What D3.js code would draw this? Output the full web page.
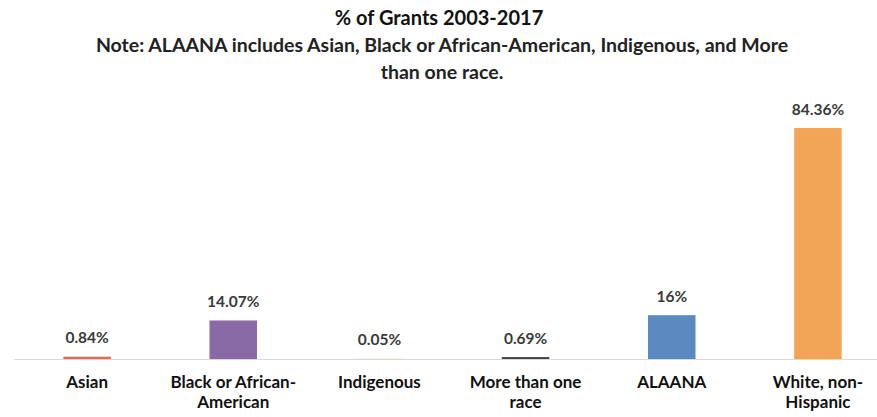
<!DOCTYPE html>
<html><head><meta charset="utf-8">
<script src="https://cdn.jsdelivr.net/npm/d3@7"></script>
<style>body{margin:0;background:#fff}svg{display:block}text{font-family:Lato,"Open Sans",sans-serif;fill:#262626}</style>
</head><body><svg id="c" width="877" height="417"></svg>
<script>
const categories = ["Asian","Black or African-American","Indigenous","More than one race","ALAANA","White, non-Hispanic"];
const tickLabels = [["Asian"],["Black or African-","American"],["Indigenous"],["More than one","race"],["ALAANA"],["White, non-","Hispanic"]];
const values = [0.84,14.07,0.05,0.69,16,84.36];
const valueLabels = ["0.84%","14.07%","0.05%","0.69%","16%","84.36%"];
const colors = ["#e06c55","#8a6aa6","#9bbb59","#404040","#5a8ac0","#f2a555"];
const title = "% of Grants 2003-2017";
const noteLines = ["Note: ALAANA includes Asian, Black or African-American, Indigenous, and More","than one race."];

const svg = d3.select("#c");
const x = d3.scaleBand().domain(categories).range([14,891]).paddingInner(0.675).paddingOuter(0.3375);
const y = d3.scaleLinear().domain([0,90]).range([359,112.6]);

svg.append("text").attr("x",439).attr("y",25).attr("text-anchor","middle")
  .style("font-size","20px").style("font-weight","700").style("fill","#111").text(title);
svg.selectAll("text.note").data(noteLines).enter().append("text").attr("class","note")
  .attr("x",442).attr("y",(d,i)=>52+i*27).attr("text-anchor","middle")
  .style("font-size","19.5px").style("font-weight","700").style("fill","#222").text(d=>d);

svg.selectAll("rect.bar").data(values).enter().append("rect").attr("class","bar")
  .attr("x",(d,i)=>x(categories[i])).attr("width",x.bandwidth())
  .attr("y",d=>y(d)).attr("height",d=>y(0)-y(d)).attr("fill",(d,i)=>colors[i]);

svg.append("line").attr("x1",14).attr("x2",877).attr("y1",y(0)+0.5).attr("y2",y(0)+0.5)
  .attr("stroke","#d9d9d9").attr("stroke-width",1);

svg.selectAll("text.val").data(values).enter().append("text").attr("class","val")
  .attr("x",(d,i)=>x(categories[i])+x.bandwidth()/2).attr("y",d=>y(d)-13.5)
  .attr("text-anchor","middle").style("font-size","15.5px").style("font-weight","700").style("fill","#3a3a3a")
  .text((d,i)=>valueLabels[i]);

const ax = svg.append("g").attr("transform",`translate(0,${y(0)})`)
  .call(d3.axisBottom(x).tickSize(0).tickFormat(""));
ax.select(".domain").remove();
ax.selectAll(".tick").each(function(d,i){
  const t = d3.select(this).append("text").attr("text-anchor","middle")
    .style("font-size","17px").style("font-weight","700").style("fill","#111");
  tickLabels[i].forEach((l,j)=>t.append("tspan").attr("x",0).attr("y",29+j*20).text(l));
});
</script></body></html>
